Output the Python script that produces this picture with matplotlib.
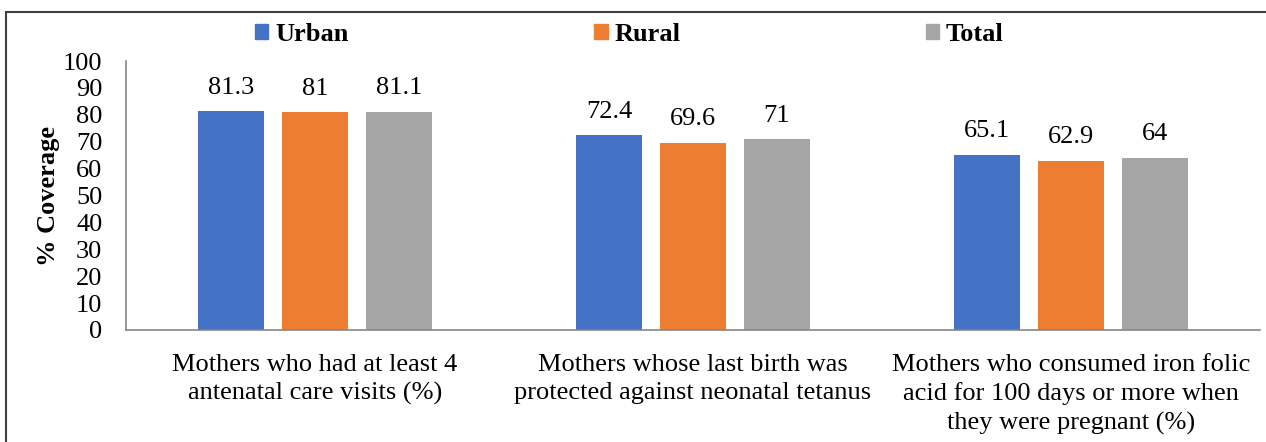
import matplotlib.pyplot as plt
from matplotlib.patches import Patch, Rectangle
import numpy as np

plt.rcParams['font.family'] = ['Liberation Serif', 'DejaVu Serif']

categories = ['Mothers who had at least 4\nantenatal care visits (%)',
              'Mothers whose last birth was\nprotected against neonatal tetanus',
              'Mothers who consumed iron folic\nacid for 100 days or more when\nthey were pregnant (%)']
series = ['Urban', 'Rural', 'Total']
urban = [81.3, 72.4, 65.1]
rural = [81, 69.6, 62.9]
total = [81.1, 71, 64]
labels_urban = ['81.3', '72.4', '65.1']
labels_rural = ['81', '69.6', '62.9']
labels_total = ['81.1', '71', '64']
colors = ['#4472C4', '#ED7D31', '#A5A5A5']

fs = 19

fig = plt.figure(figsize=(12.66, 4.42), dpi=100)
ax = fig.add_axes([126 / 1266, 1 - 330 / 442, 1134 / 1266, 269 / 442])

x = np.arange(len(categories))
w = 0.175
step = 0.222
values = [urban, rural, total]
texts = [labels_urban, labels_rural, labels_total]
for i in range(3):
    bars = ax.bar(x + (i - 1) * step, values[i], w, color=colors[i], label=series[i])
    ax.bar_label(bars, labels=texts[i], padding=9, fontsize=fs)

ax.set_xlim(-0.5, 2.5)
ax.set_ylim(0, 100)
ax.set_yticks(range(0, 101, 10))
ax.set_xticks(x)
ax.set_xticklabels(categories, fontsize=fs, linespacing=1.38)
ax.tick_params(axis='y', length=0, pad=17, labelsize=fs)
ax.tick_params(axis='x', length=0, pad=17)
for s in ['top', 'right']:
    ax.spines[s].set_visible(False)
for s in ['left', 'bottom']:
    ax.spines[s].set_color('#868686')
    ax.spines[s].set_linewidth(1.2)

ax.set_ylabel('% Coverage', fontsize=fs, fontweight='bold')
ax.yaxis.set_label_coords(-0.058, 0.5)

handles = [Patch(color=c) for c in colors]
fig.legend(handles, series, loc='center', bbox_to_anchor=(0.497, 0.922), ncol=3,
           frameon=False, prop={'weight': 'bold', 'size': fs},
           handlelength=0.52, handleheight=0.52, handletextpad=0.25,
           columnspacing=9.3)

fig.patches.append(Rectangle((6 / 1266, -0.1), 2, 1 - 12 / 442 + 0.1,
                             transform=fig.transFigure, fill=False,
                             edgecolor='#404040', linewidth=1.5))

fig.savefig('out.png', dpi=100)
